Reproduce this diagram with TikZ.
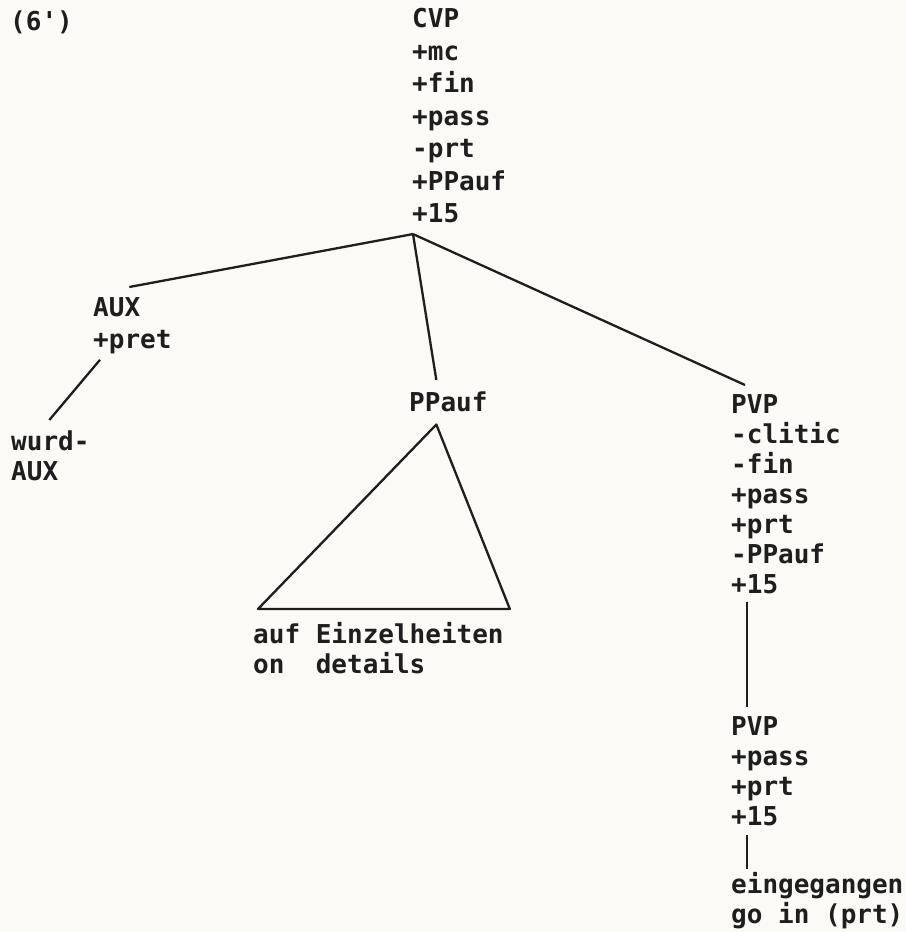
\documentclass[tikz,border=0pt]{standalone}
\usepackage{fontspec}
\setmonofont{DejaVu Sans Mono}
\usepackage{tikz}
\usetikzlibrary{positioning}
\definecolor{oink}{HTML}{1E1E1E}
\definecolor{opaper}{HTML}{FBFAF7}

\begin{document}
\begin{tikzpicture}[
  x=1pt,y=-1pt,
  font=\ttfamily\bfseries\fontsize{26}{32.5}\selectfont,
  feat/.style={anchor=north west,align=left,inner sep=0pt,text=oink},
  tight/.style={font=\ttfamily\bfseries\fontsize{26}{30}\selectfont},
  branch/.style={draw=oink,line width=2.3pt,line join=round}
]
\fill[opaper] (0,0) rectangle (906,932);
\useasboundingbox (0,0) rectangle (906,932);

\node[feat] (ex) at (10,11) {(6')};
\node[feat] (cvp) at (412,8)
  {CVP\\+mc\\+fin\\+pass\\-prt\\+PPauf\\+15};
\node[feat,font=\ttfamily\bfseries\fontsize{26}{32}\selectfont] (aux)
  at (93,297) {AUX\\+pret};
\node[feat,tight] (wurd) at (11,431) {wurd-\\AUX};
\node[feat] (ppauf) at (409,392) {PPauf};
\node[feat,tight] (words) at (253,622)
  {auf Einzelheiten\\on~~details};
\node[feat,tight] (pvp) at (731,394)
  {PVP\\-clitic\\-fin\\+pass\\+prt\\-PPauf\\+15};
\node[feat,tight,below right=123pt and 0pt of pvp.south west] (pvpb)
  {PVP\\+pass\\+prt\\+15};
\node[feat,tight,below right=46pt and 0pt of pvpb.south west] (eing)
  {eingegangen\\go in (prt)};

\coordinate (apex) at ([shift={(1pt,-11pt)}]cvp.south west);
\draw[branch] (apex) -- ([shift={(-3pt,10pt)}]aux.north);
\draw[branch] (apex) -- ([shift={(-12pt,12pt)}]ppauf.north);
\draw[branch] (apex) -- ([shift={(14pt,9pt)}]pvp.north west);
\draw[branch] ([shift={(7pt,-6pt)}]aux.south west) -- ([shift={(-1pt,11pt)}]wurd.north);
\draw[branch] ([shift={(-12pt,-12pt)}]ppauf.south)
  -- ([shift={(5pt,13pt)}]words.north west)
  -- ([shift={(6pt,13pt)}]words.north east) -- cycle;
\draw[branch] ([shift={(16pt,-8pt)}]pvp.south west)
  -- ([shift={(16pt,10pt)}]pvpb.north west);
\draw[branch] ([shift={(16pt,-9pt)}]pvpb.south west)
  -- ([shift={(16pt,3pt)}]eing.north west);
\end{tikzpicture}
\end{document}
